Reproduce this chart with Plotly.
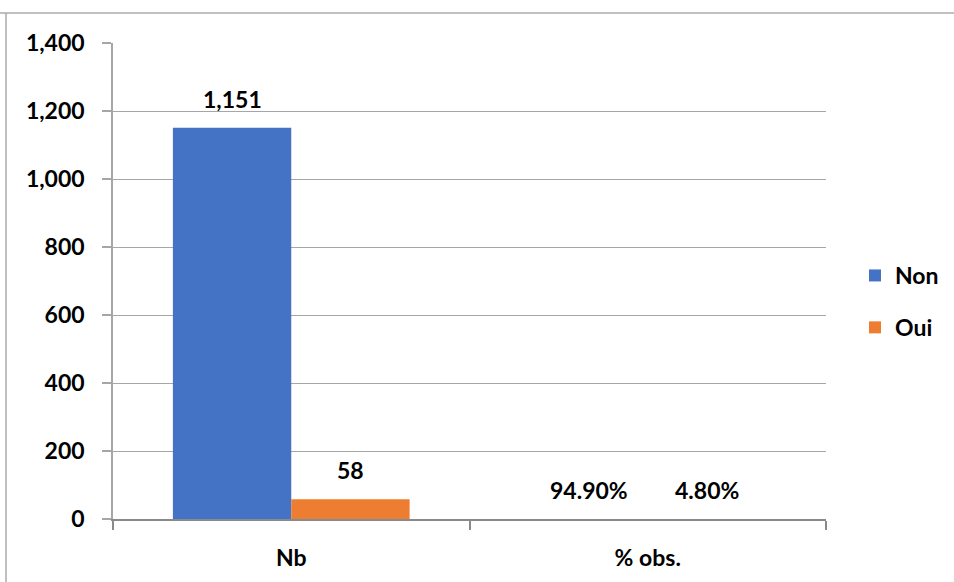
import plotly.graph_objects as go

# Chart data
categories = ["Nb", "% obs."]
series_names = ["Non", "Oui"]
non_values = [1151, 0.949]
oui_values = [58, 0.048]
y_ticks = [0, 200, 400, 600, 800, 1000, 1200, 1400]

colors = {"Non": "#4472C4", "Oui": "#ED7D31"}
FONT = "Lato, 'Open Sans', sans-serif"
GRID = "#A6A6A6"
AXIS = "#8A8A8A"
FS = 23


def fmt(cat, v):
    # counts use thousands separators, shares are shown as percentages
    return f"{v:,.0f}" if cat == "Nb" else f"{v * 100:.2f}%"


fig = go.Figure()
for name, vals in (("Non", non_values), ("Oui", oui_values)):
    # sub-pixel bars (shares on a 0-1400 scale) are not painted
    fig.add_trace(go.Bar(
        x=categories, y=vals, name=name,
        marker=dict(color=colors[name], line=dict(width=0),
                    opacity=[1 if v >= 1 else 0 for v in vals]),
        legendgroup=name,
    ))

# value labels above each bar
bargap = 0.336
half = (1 - bargap) / 2
for si, (name, vals) in enumerate((("Non", non_values), ("Oui", oui_values))):
    offset = -half / 2 if si == 0 else half / 2
    for ci, (cat, v) in enumerate(zip(categories, vals)):
        fig.add_annotation(
            x=ci + offset, y=v, xref="x", yref="y",
            text=fmt(cat, v), showarrow=False,
            yanchor="bottom", yshift=13,
            font=dict(family=FONT, size=FS, color="#000000", weight="bold"),
        )

# outer frame (top and left edges)
fig.add_shape(type="line", xref="paper", yref="paper",
              x0=-113 / 713, x1=841 / 713, y0=(519 - 13) / 476, y1=(519 - 13) / 476,
              line=dict(color="#ABABAB", width=1.5))
fig.add_shape(type="line", xref="paper", yref="paper",
              x0=-107 / 713, x1=-107 / 713, y0=(519 - 13) / 476, y1=-70 / 476,
              line=dict(color="#ABABAB", width=1.5))

fig.update_layout(
    width=954, height=582,
    margin=dict(l=113, r=128, t=43, b=63),
    paper_bgcolor="white", plot_bgcolor="white",
    barmode="group", bargap=bargap, bargroupgap=0,
    font=dict(family=FONT, size=FS, color="#000000", weight="bold"),
    showlegend=True,
    legend=dict(
        xref="container", yref="container",
        x=855 / 954, y=1 - 254 / 582, xanchor="left", yanchor="top",
        font=dict(family=FONT, size=FS, color="#000000", weight="bold"),
        tracegroupgap=19, bgcolor="rgba(0,0,0,0)",
    ),
    xaxis=dict(
        type="category",
        showline=True, linecolor=AXIS, linewidth=2.2,
        ticks="outside", tickson="boundaries", ticklen=9,
        tickcolor=AXIS, tickwidth=1.5,
        ticklabelstandoff=17,
        showgrid=False, layer="above traces",
        tickfont=dict(family=FONT, size=FS, color="#000000", weight="bold"),
    ),
    yaxis=dict(
        range=[0, 1400], tickvals=y_ticks, tickformat=",",
        showline=True, linecolor=GRID, linewidth=1.5,
        ticks="outside", ticklen=9, tickcolor=GRID, tickwidth=1.5,
        showgrid=True, gridcolor=GRID, gridwidth=1.3,
        zeroline=False,
        ticklabelstandoff=13,
        tickfont=dict(family=FONT, size=FS, color="#000000", weight="bold"),
    ),
)

fig.write_html("out.html")
